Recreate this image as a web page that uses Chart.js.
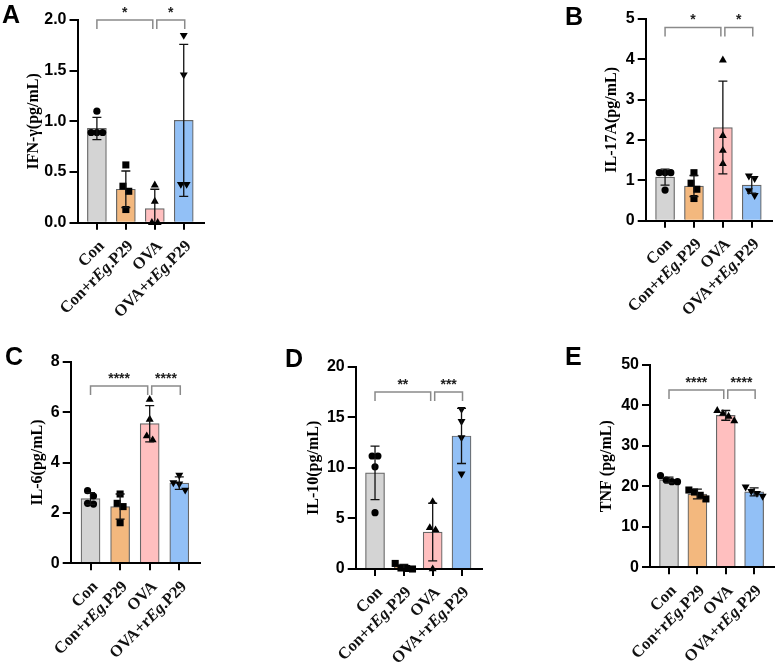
<!DOCTYPE html>
<html>
<head>
<meta charset="utf-8">
<script src="https://cdn.jsdelivr.net/npm/chart.js@4.4.1/dist/chart.umd.min.js"></script>
<style>
  html, body { margin: 0; padding: 0; background: #fff; }
  #wrap { position: relative; width: 779px; height: 667px; }
  canvas { position: absolute; }
</style>
</head>
<body>
<div id="wrap">
  <canvas id="pA" width="260" height="330" style="left:0;top:0"></canvas>
  <canvas id="pB" width="259" height="330" style="left:520px;top:0"></canvas>
  <canvas id="pC" width="260" height="337" style="left:0;top:330px"></canvas>
  <canvas id="pD" width="260" height="337" style="left:260px;top:330px"></canvas>
  <canvas id="pE" width="259" height="337" style="left:520px;top:330px"></canvas>
</div>
<script>
  // Groups (italic part marked with <i>)
  const GROUPS = ['Con', 'Con+r<i>Eg</i>.P29', 'OVA', 'OVA+r<i>Eg</i>.P29'];

  // A: IFN-gamma
  const IFNG_MEAN = [0.93, 0.33, 0.14, 1.01];
  const IFNG_SD = [0.11, 0.18, 0.19, 0.75];
  const IFNG_POINTS = [[1.10, 0.89, 0.89, 0.89], [0.57, 0.36, 0.31, 0.13], [0.37, 0.21, 0.0, 0.0], [1.85, 1.46, 0.38, 0.38]];
  const IFNG_STARS = ['*', '*'];

  // B: IL-17A
  const IL17_MEAN = [1.08, 0.86, 2.31, 0.88];
  const IL17_SD = [0.2, 0.26, 1.15, 0.2];
  const IL17_POINTS = [[1.19, 1.19, 1.19, 0.76], [1.19, 0.93, 0.78, 0.55], [3.98, 2.11, 1.74, 1.41], [1.11, 1.05, 0.75, 0.63]];
  const IL17_STARS = ['*', '*'];

  // C: IL-6
  const IL6_MEAN = [2.57, 2.25, 5.54, 3.18];
  const IL6_SD = [0.23, 0.5, 0.72, 0.25];
  const IL6_POINTS = [[2.88, 2.67, 2.38, 2.35], [2.75, 2.38, 2.25, 1.61], [6.5, 5.71, 5.05, 4.89], [3.5, 3.2, 3.15, 2.91]];
  const IL6_STARS = ['****', '****'];

  // D: IL-10
  const IL10_MEAN = [9.5, 0.18, 3.65, 13.15];
  const IL10_SD = [2.65, 0.28, 2.85, 2.72];
  const IL10_POINTS = [[11.17, 11.17, 10.1, 5.57], [0.55, 0.1, 0.05, 0.0], [6.65, 4.08, 3.85, 0.0], [15.8, 14.6, 13.0, 9.4]];
  const IL10_STARS = ['**', '***'];

  // E: TNF
  const TNF_MEAN = [21.6, 18.1, 37.55, 18.65];
  const TNF_SD = [0.7, 1.2, 1.2, 1.0];
  const TNF_POINTS = [[22.65, 21.58, 21.17, 21.17], [19.1, 18.6, 17.8, 16.9], [38.7, 38.0, 37.3, 36.2], [19.9, 18.8, 18.3, 17.6]];
  const TNF_STARS = ['****', '****'];

  const BAR_COLORS = ['#d4d4d4', '#f3b87e', '#ffbfbf', '#92c0f6'];
  const POINT_STYLES = ['circle', 'rect', 'triangle', 'triangle'];
  const POINT_ROT = [0, 0, 0, 180];
  const POINT_RADII = [3.6, 5, 4.6, 4.6];

  const PANELS = [
    { id: 'pA', letter: 'A', letterPos: [2, 23], area: [77.5, 20, 204, 222.7], title: 'IFN-γ(pg/mL)', titleDx: 44,
      yMax: 2, yStep: 0.5, dec: 1, mean: IFNG_MEAN, sd: IFNG_SD, pts: IFNG_POINTS, bracketY: 2.0, stars: IFNG_STARS },
    { id: 'pB', letter: 'B', letterPos: [45, 25], area: [125.7, 19, 252, 220.7], title: 'IL-17A(pg/mL)', titleDx: 34,
      yMax: 5, yStep: 1, dec: 0, mean: IL17_MEAN, sd: IL17_SD, pts: IL17_POINTS, bracketY: 4.79, stars: IL17_STARS },
    { id: 'pC', letter: 'C', letterPos: [5, 35], area: [70.7, 31.7, 200, 233.3], title: 'IL-6(pg/mL)', titleDx: 32.5,
      yMax: 8, yStep: 2, dec: 0, mean: IL6_MEAN, sd: IL6_SD, pts: IL6_POINTS, bracketY: 7.04, stars: IL6_STARS },
    { id: 'pD', letter: 'D', letterPos: [25, 37], area: [95.7, 36.7, 221.7, 239], title: 'IL-10(pg/mL)', titleDx: 42,
      yMax: 20, yStep: 5, dec: 0, mean: IL10_MEAN, sd: IL10_SD, pts: IL10_POINTS, bracketY: 17.5, stars: IL10_STARS },
    { id: 'pE', letter: 'E', letterPos: [45, 35], area: [130, 35, 256.7, 237.3], title: 'TNF (pg/mL)', titleDx: 42.7,
      yMax: 50, yStep: 10, dec: 0, mean: TNF_MEAN, sd: TNF_SD, pts: TNF_POINTS, bracketY: 43.8, stars: TNF_STARS }
  ];

  const Y_WIDTH = 60;
  const X_HEIGHT = 60;
  const SANS = 'Liberation Sans, Arial, sans-serif';
  const SERIF = 'Liberation Serif, Times New Roman, serif';

  /**
   * Spread points with nearly equal values side by side (column scatter).
   */
  function spread(vals, gi, yMax) {
    const thr = yMax * 0.035;
    const order = vals.map((v, k) => k).sort((a, b) => vals[b] - vals[a]);
    const out = [];
    let cluster = [];
    const flush = function () {
      cluster.forEach(function (k, j) {
        out.push({ x: gi + (j - (cluster.length - 1) / 2) * 0.2, y: vals[k] });
      });
      cluster = [];
    };
    order.forEach(function (k) {
      if (cluster.length && vals[cluster[cluster.length - 1]] - vals[k] > thr) flush();
      cluster.push(k);
    });
    flush();
    return out;
  }

  function drawLabel(ctx, text, x, y) {
    const parts = text.split(/<\/?i>/);
    const fonts = parts.map((p, i) => (i % 2 ? 'italic bold 16.5px ' : 'bold 16.5px ') + SERIF);
    ctx.save();
    ctx.translate(x, y);
    ctx.rotate(-Math.PI / 4);
    ctx.textBaseline = 'middle';
    ctx.textAlign = 'left';
    ctx.fillStyle = '#111';
    const widths = parts.map(function (p, i) { ctx.font = fonts[i]; return ctx.measureText(p).width; });
    let cx = -widths.reduce((a, b) => a + b, 0);
    parts.forEach(function (p, i) {
      ctx.font = fonts[i];
      ctx.fillText(p, cx, 0);
      cx += widths[i];
    });
    ctx.restore();
  }

  function makePanel(p) {
    const canvas = document.getElementById(p.id);
    const W = canvas.width, H = canvas.height;
    const [aL, aT, aR, aB] = p.area;

    const decor = {
      id: 'decor' + p.id,
      afterDatasetsDraw: function (chart) {
        const ctx = chart.ctx, xs = chart.scales.x, ys = chart.scales.y;
        ctx.save();
        ctx.strokeStyle = '#111';
        ctx.lineWidth = 1.3;
        p.mean.forEach(function (m, i) {
          const x = xs.getPixelForValue(i);
          const yt = ys.getPixelForValue(m + p.sd[i]);
          const yb = Math.min(ys.getPixelForValue(m - p.sd[i]), chart.chartArea.bottom);
          ctx.beginPath();
          ctx.moveTo(x, yt); ctx.lineTo(x, yb);
          ctx.moveTo(x - 4.5, yt); ctx.lineTo(x + 4.5, yt);
          if (m - p.sd[i] > 0) { ctx.moveTo(x - 4.5, yb); ctx.lineTo(x + 4.5, yb); }
          ctx.stroke();
        });
        ctx.restore();
      },
      afterDraw: function (chart) {
        const ctx = chart.ctx, xs = chart.scales.x, ys = chart.scales.y;
        ctx.save();
        // significance brackets
        const y = ys.getPixelForValue(p.bracketY);
        const x0 = xs.getPixelForValue(0), x2 = xs.getPixelForValue(2), x3 = xs.getPixelForValue(3);
        const spans = [[x0, x2 - 2], [x2 + 2, x3 + 1]];
        ctx.strokeStyle = '#8a8a8a';
        ctx.lineWidth = 1.5;
        spans.forEach(function (s, k) {
          ctx.beginPath();
          ctx.moveTo(s[0], y + 9); ctx.lineTo(s[0], y); ctx.lineTo(s[1], y); ctx.lineTo(s[1], y + 9);
          ctx.stroke();
          ctx.font = 'bold 14px ' + SANS;
          ctx.fillStyle = '#222';
          ctx.textAlign = 'center';
          ctx.textBaseline = 'alphabetic';
          ctx.fillText(p.stars[k], (s[0] + s[1]) / 2, y - 3);
        });
        // category labels
        GROUPS.forEach(function (g, i) {
          drawLabel(ctx, g, xs.getPixelForValue(i) + 5, chart.chartArea.bottom + 21);
        });
        // panel letter
        ctx.font = 'bold 25px ' + SANS;
        ctx.fillStyle = '#000';
        ctx.textAlign = 'left';
        ctx.textBaseline = 'alphabetic';
        ctx.fillText(p.letter, p.letterPos[0], p.letterPos[1]);
        ctx.restore();
      }
    };

    const scatterSets = GROUPS.map(function (g, i) {
      return {
        type: 'scatter',
        data: spread(p.pts[i], i, p.yMax),
        pointStyle: POINT_STYLES[i],
        pointRotation: POINT_ROT[i],
        pointRadius: POINT_RADII[i],
        pointBackgroundColor: '#000',
        pointBorderColor: '#000',
        pointBorderWidth: 0,
        clip: false,
        order: 1
      };
    });

    new Chart(canvas, {
      type: 'bar',
      data: {
        datasets: [{
          type: 'bar',
          data: p.mean.map((m, i) => ({ x: i, y: m })),
          backgroundColor: BAR_COLORS,
          borderColor: '#666',
          borderWidth: 1.2,
          borderSkipped: 'start',
          barThickness: 19,
          order: 2
        }].concat(scatterSets)
      },
      options: {
        responsive: false,
        animation: false,
        devicePixelRatio: 1,
        layout: {
          padding: { left: aL - Y_WIDTH, top: aT, right: W - aR, bottom: H - aB - X_HEIGHT }
        },
        plugins: { legend: { display: false }, tooltip: { enabled: false } },
        scales: {
          x: {
            type: 'linear',
            min: -0.67,
            max: 3.7,
            offset: false,
            afterBuildTicks: function (s) { s.ticks = [0, 1, 2, 3].map(v => ({ value: v })); },
            afterFit: function (s) { s.height = X_HEIGHT; },
            ticks: { display: false },
            grid: {
              display: true, offset: false, drawOnChartArea: false, drawTicks: true,
              tickLength: 7, tickWidth: 2, tickColor: '#000', color: '#000', lineWidth: 2
            },
            border: { display: true, color: '#000', width: 2, z: 1 }
          },
          y: {
            min: 0,
            max: p.yMax,
            afterFit: function (s) { s.width = Y_WIDTH; },
            ticks: {
              stepSize: p.yStep,
              color: '#000',
              padding: 3,
              font: { family: SANS, size: 16, weight: 'bold' },
              callback: v => v.toFixed(p.dec)
            },
            grid: {
              display: true, drawOnChartArea: false, drawTicks: true,
              tickLength: 8, tickWidth: 2, tickColor: '#000', color: '#000', lineWidth: 2
            },
            border: { display: true, color: '#000', width: 2, z: 1 },
            title: {
              display: true,
              text: p.title,
              color: '#000',
              font: { family: SERIF, size: 16, weight: 'bold' },
              padding: { top: Y_WIDTH - p.titleDx - 9.6, bottom: 0 }
            }
          }
        }
      },
      plugins: [decor]
    });
  }

  PANELS.forEach(makePanel);
</script>
</body>
</html>
